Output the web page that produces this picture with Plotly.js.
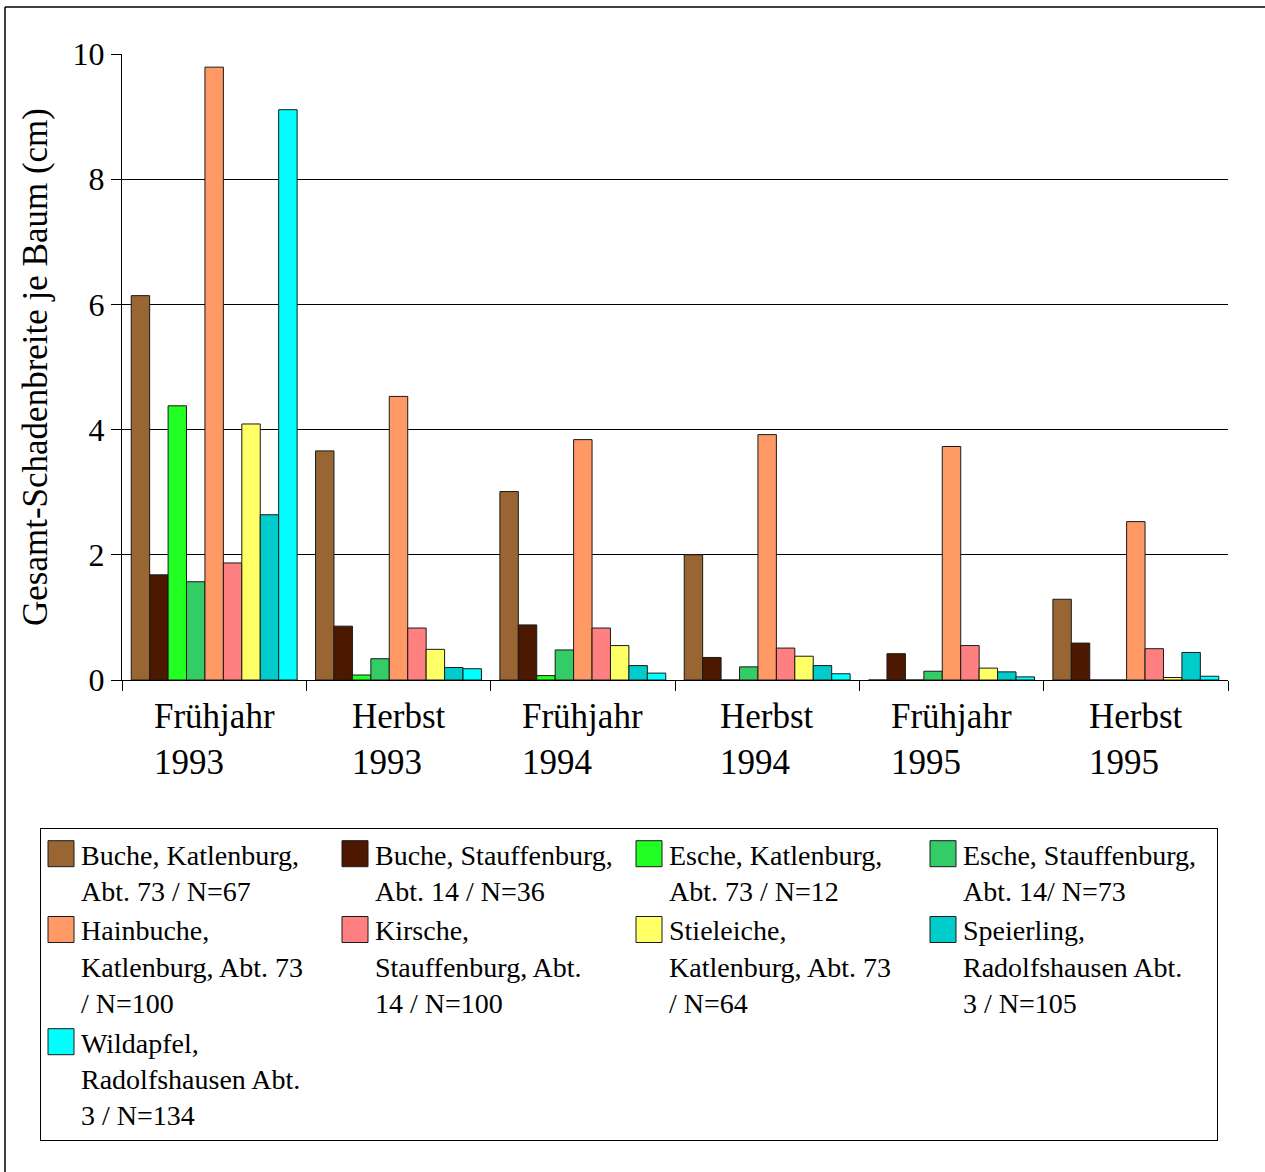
<!DOCTYPE html>
<html><head><meta charset="utf-8">
<script src="https://cdn.plot.ly/plotly-3.0.1.min.js"></script>
<style>
html,body{margin:0;padding:0;background:#fff;}
#chart{width:1265px;height:1172px;}
</style></head><body><div id="chart"></div><script>
// Categories (x groups)
const categories = ["Frühjahr<br>1993","Herbst<br>1993","Frühjahr<br>1994","Herbst<br>1994","Frühjahr<br>1995","Herbst<br>1995"];

// Series names (legend labels)
const seriesNames = [
  "Buche, Katlenburg,<br>Abt. 73 / N=67",
  "Buche, Stauffenburg,<br>Abt. 14 / N=36",
  "Esche, Katlenburg,<br>Abt. 73 / N=12",
  "Esche, Stauffenburg,<br>Abt. 14/ N=73",
  "Hainbuche,<br>Katlenburg, Abt. 73<br>/ N=100",
  "Kirsche,<br>Stauffenburg, Abt.<br>14 / N=100",
  "Stieleiche,<br>Katlenburg, Abt. 73<br>/ N=64",
  "Speierling,<br>Radolfshausen Abt.<br>3 / N=105",
  "Wildapfel,<br>Radolfshausen Abt.<br>3 / N=134"
];

// Series values (Gesamt-Schadenbreite je Baum, cm)
const bucheKatlenburg    = [6.14, 3.66, 3.01, 2.00, 0.00, 1.29];
const bucheStauffenburg  = [1.68, 0.86, 0.88, 0.36, 0.42, 0.59];
const escheKatlenburg    = [4.38, 0.08, 0.07, 0.00, 0.00, 0.00];
const escheStauffenburg  = [1.57, 0.34, 0.48, 0.21, 0.14, 0.00];
const hainbuche          = [9.79, 4.53, 3.84, 3.92, 3.73, 2.53];
const kirsche            = [1.87, 0.83, 0.83, 0.51, 0.55, 0.50];
const stieleiche         = [4.09, 0.49, 0.55, 0.38, 0.19, 0.04];
const speierling         = [2.64, 0.20, 0.23, 0.23, 0.13, 0.44];
const wildapfel          = [9.11, 0.18, 0.11, 0.10, 0.05, 0.06];

const seriesValues = [bucheKatlenburg, bucheStauffenburg, escheKatlenburg, escheStauffenburg,
  hainbuche, kirsche, stieleiche, speierling, wildapfel];

const seriesColors = ["#996633","#4c1900","#22ff22","#33cc66","#ff9966","#ff8080","#ffff66","#00cccc","#00ffff"];

const yTitle = "Gesamt-Schadenbreite je Baum (cm)";

const traces = seriesValues.map((vals, i) => ({
  type: "bar",
  x: categories,
  y: vals,
  name: seriesNames[i],
  marker: {color: seriesColors[i], line: {color: "#1a1a1a", width: 1}},
  hoverinfo: "x+y+name"
}));

const W = 1265, H = 1172;
const m = {l: 122, r: 37, t: 54, b: 492};
const pw = W - m.l - m.r, ph = H - m.t - m.b;
const px = x => (x - m.l) / pw;
const py = y => (H - m.b - y) / ph;

const annotations = categories.map(c => ({
  xref: "x", yref: "paper", x: c, y: py(695), xanchor: "center", yanchor: "top",
  text: c, align: "left", showarrow: false,
  font: {size: 35, color: "#000"}
}));

const layout = {
  width: W, height: H,
  margin: m,
  paper_bgcolor: "#fff", plot_bgcolor: "#fff",
  font: {family: "'Liberation Serif', 'Times New Roman', serif", color: "#000"},
  barmode: "group", bargap: 0.1, bargroupgap: 0,
  xaxis: {
    type: "category", showticklabels: false, ticks: "outside", tickson: "boundaries",
    ticklen: 10, tickcolor: "#000", tickwidth: 1,
    showline: true, linecolor: "#000", linewidth: 1, showgrid: false, zeroline: false
  },
  yaxis: {
    range: [0, 10], dtick: 2, tick0: 0, ticks: "outside", ticklen: 10, tickcolor: "#000", tickwidth: 1,
    showline: true, linecolor: "#000", linewidth: 1,
    showgrid: true, gridcolor: "#000", gridwidth: 1, zeroline: false,
    tickfont: {size: 32},
    title: {text: yTitle, font: {size: 35}, standoff: 14}
  },
  legend: {
    orientation: "h", x: px(40), y: py(828), xanchor: "left", yanchor: "top",
    bordercolor: "#000", borderwidth: 1, bgcolor: "#fff",
    font: {size: 28}, entrywidth: 249, entrywidthmode: "pixels",
    valign: "top", traceorder: "normal", itemclick: false, itemdoubleclick: false
  },
  annotations: annotations,
  shapes: [
    {type: "line", xref: "paper", yref: "paper", x0: px(5), x1: px(5), y0: py(7), y1: py(1200), line: {color: "#000", width: 1.5}},
    {type: "line", xref: "paper", yref: "paper", x0: px(5), x1: px(1300), y0: py(7), y1: py(7), line: {color: "#000", width: 1.5}}
  ],
  showlegend: true
};

Plotly.newPlot("chart", traces, layout, {displayModeBar: false}).then(gd => {
  // enlarge legend swatches to match the reference's larger squares
  gd.querySelectorAll(".legend .legendpoints path").forEach(p => {
    p.setAttribute("d", "M13,13H-13V-13H13Z");
  });
});
</script></body></html>
